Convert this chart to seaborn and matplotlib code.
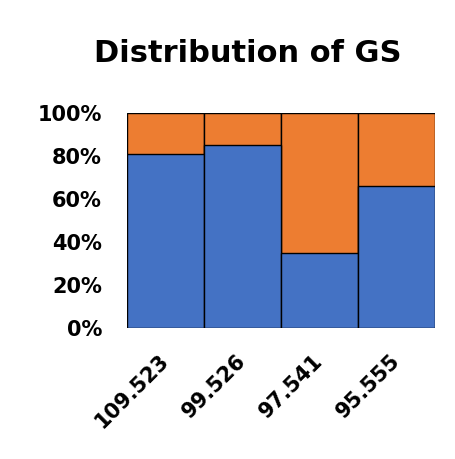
import pandas as pd
import matplotlib.pyplot as plt
import matplotlib.transforms as mtransforms
import seaborn as sns
from matplotlib.ticker import PercentFormatter

sns.set_theme(style="white")
plt.rcParams['font.family'] = ['DejaVu Sans']
plt.rcParams['text.color'] = 'black'
plt.rcParams['xtick.color'] = 'black'
plt.rcParams['ytick.color'] = 'black'

# dados
categorias = ['109.523', '99.526', '97.541', '95.555']
parte_azul = [0.81, 0.85, 0.35, 0.66]
parte_laranja = [0.19, 0.15, 0.65, 0.34]

df = pd.DataFrame({'cat': categorias, 'azul': parte_azul, 'laranja': parte_laranja})
df['total'] = df['azul'] + df['laranja']

fig, ax = plt.subplots(figsize=(4.55, 4.59), dpi=100)

# barra total (laranja) por trás, azul por cima
sns.barplot(data=df, x='cat', y='total', color='#ED7D31', width=1.0,
            edgecolor='black', linewidth=1.0, saturation=1, ax=ax)
sns.barplot(data=df, x='cat', y='azul', color='#4472C4', width=1.0,
            edgecolor='black', linewidth=1.0, saturation=1, ax=ax)

ax.set_ylim(0, 1)
ax.set_xlim(-0.5, 3.5)
ax.set_yticks([0, 0.2, 0.4, 0.6, 0.8, 1.0])
ax.yaxis.set_major_formatter(PercentFormatter(1.0, decimals=0))
ax.set_xlabel('')
ax.set_ylabel('')
ax.set_title('Distribution of GS', fontsize=22, fontweight='bold', pad=37,
             color='black', x=0.393)
for s in ax.spines.values():
    s.set_visible(False)
ax.tick_params(axis='y', labelsize=15, pad=12)
ax.tick_params(axis='x', labelsize=15, pad=10)
for lab in ax.get_yticklabels():
    lab.set_fontweight('bold')
desloc = mtransforms.ScaledTranslation(-5 / 72, 0, fig.dpi_scale_trans)
for lab in ax.get_xticklabels():
    lab.set_fontweight('bold')
    lab.set_rotation(45)
    lab.set_ha('right')
    lab.set_rotation_mode('anchor')
    lab.set_transform(lab.get_transform() + desloc)

fig.subplots_adjust(left=0.279, right=0.956, top=0.754, bottom=0.285)
plt.savefig('out.png', dpi=100)
